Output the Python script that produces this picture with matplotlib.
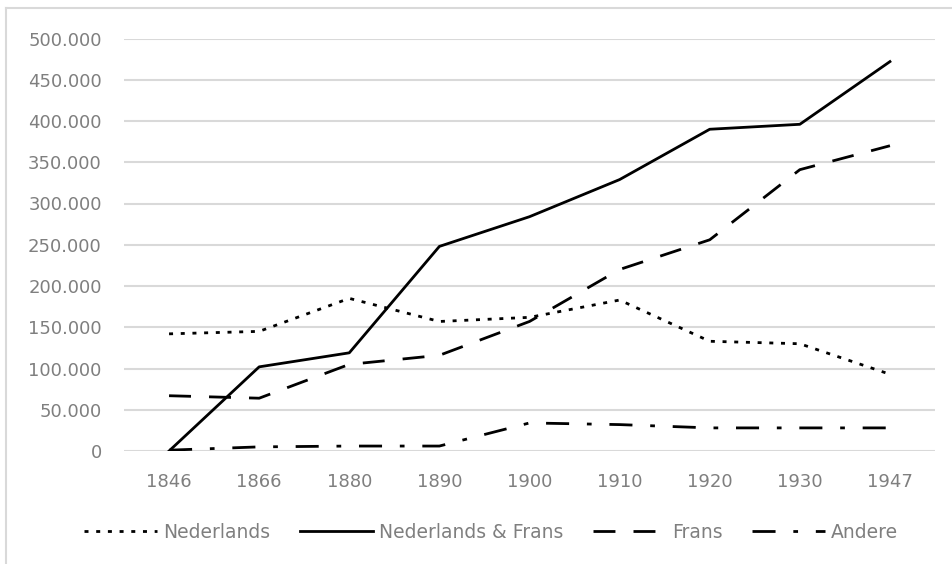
import matplotlib
matplotlib.use("Agg")
import matplotlib.pyplot as plt
from matplotlib.lines import Line2D
from matplotlib.ticker import FuncFormatter

# data
years = ["1846", "1866", "1880", "1890", "1900", "1910", "1920", "1930", "1947"]
nederlands = [142000, 145000, 185000, 157000, 162000, 183000, 133000, 130000, 93000]
nederlands_frans = [0, 102000, 119000, 248000, 284000, 329000, 390000, 396000, 472000]
frans = [67000, 64000, 105000, 116000, 157000, 220000, 256000, 341000, 370000]
andere = [1000, 5000, 6000, 6000, 34000, 32000, 28000, 28000, 28000]

W, H = 952, 564
fig = plt.figure(figsize=(W / 100, H / 100), dpi=100)
ax = fig.add_axes([124 / W, 1 - 451 / H, (935 - 124) / W, (451 - 38.5) / H])

x = range(len(years))
lw = 2.0
ax.plot(x, nederlands, color="black", lw=lw, linestyle=(0, (1.44, 2.77)),
        dash_capstyle="butt", label="Nederlands")
ax.plot(x, nederlands_frans, color="black", lw=lw, label="Nederlands & Frans")
ax.plot(x, frans, color="black", lw=lw, linestyle=(0, (7.9, 6.5)),
        dash_capstyle="butt", label="Frans")
ax.plot(x, andere, color="black", lw=lw, linestyle=(0, (8.3, 6.4, 1.7, 6.4)),
        dash_capstyle="butt", label="Andere")

ax.set_xlim(-0.5, len(years) - 0.5)
ax.set_ylim(0, 500000)
ax.set_yticks(range(0, 500001, 50000))
ax.yaxis.set_major_formatter(FuncFormatter(lambda v, p: f"{int(v):,}".replace(",", ".")))
ax.set_xticks(list(x))
ax.set_xticklabels(years)

ax.grid(axis="y", color="#d9d9d9", lw=1.5)
ax.set_axisbelow(True)
for s in ax.spines.values():
    s.set_visible(False)
ax.tick_params(axis="both", length=0, labelsize=13, labelcolor="#7f7f7f")
ax.tick_params(axis="y", pad=16)
ax.tick_params(axis="x", pad=16)

leg = fig.legend(loc="center", bbox_to_anchor=(491 / W, 1 - 532 / H), ncol=4,
                 frameon=False, fontsize=13.5, handlelength=3.9, handletextpad=0.3,
                 columnspacing=1.6, labelcolor="#7f7f7f")

# partial outer frame of the chart area
fig.add_artist(Line2D([6 / W, 1.0], [1 - 8 / H, 1 - 8 / H], color="#d9d9d9", lw=1.5,
                      transform=fig.transFigure))
fig.add_artist(Line2D([6 / W, 6 / W], [0.0, 1 - 8 / H], color="#d9d9d9", lw=1.5,
                      transform=fig.transFigure))

fig.savefig("out.png", dpi=100, facecolor="white")
